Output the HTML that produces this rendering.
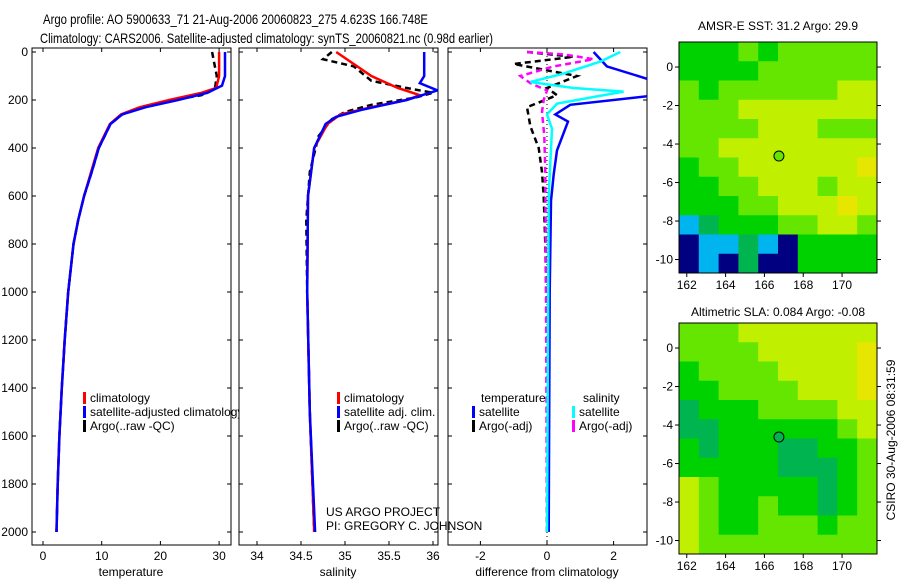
<!DOCTYPE html>
<html><head><meta charset="utf-8"><style>
body{margin:0;background:#fff}
svg{display:block;font-family:"Liberation Sans",sans-serif;font-size:12px}
</style></head><body>
<svg id="s" width="900" height="580" xmlns="http://www.w3.org/2000/svg">
<text x="43" y="24" font-size="14" textLength="385" lengthAdjust="spacingAndGlyphs">Argo profile: AO 5900633_71 21-Aug-2006 20060823_275 4.623S 166.748E</text>
<text x="40" y="43" font-size="14" textLength="453" lengthAdjust="spacingAndGlyphs">Climatology: CARS2006. Satellite-adjusted climatology: synTS_20060821.nc (0.98d earlier)</text>
<text x="778" y="30" text-anchor="middle">AMSR-E SST: 31.2 Argo: 29.9</text>
<text x="778" y="316" text-anchor="middle">Altimetric SLA: 0.084 Argo: -0.08</text>
<text transform="translate(895,440) rotate(-90)" text-anchor="middle">CSIRO 30-Aug-2006 08:31:59</text>
<defs><clipPath id="c1"><rect x="32" y="48" width="207" height="500"/></clipPath></defs>
</svg>
<script>
// ---- data ----
const depthTicks=[0,200,400,600,800,1000,1200,1400,1600,1800,2000];
const tempTicks=[0,10,20,30];
const salTicks=[34,34.5,35,35.5,36];
const diffTicks=[-2,0,2];
const argoTD=[0,50,100,150,180,200,230,260,300,400,500,600,700,800,1000,1200,1400,1600,1800,2000];
const argoT=[28.8,29.2,29.6,29.3,27,22,17,13.5,11.5,9.5,8.3,7.0,6.0,5.2,4.3,3.7,3.2,2.8,2.5,2.3];
const climTD=[0,100,150,170,200,230,260,300,400,500,600,700,800,1000,1200,1400,1600,1800,2000];
const climT=[30.0,30.0,29.5,27,21.5,16.5,13.3,11.4,9.4,8.2,7.0,6.0,5.2,4.3,3.7,3.2,2.8,2.5,2.3];
const satTD=[0,100,140,170,200,230,260,300,400,500,600,700,800,1000,1200,1400,1600,1800,2000];
const satT=[31.0,31.0,30.5,28,23,17.5,13.5,11.5,9.5,8.3,7.0,6.0,5.2,4.3,3.7,3.2,2.8,2.5,2.3];
const argoSD=[0,30,60,90,120,150,170,190,220,250,280,350,500,700,1000,1500,2000];
const argoS=[34.85,34.75,35.1,35.2,35.3,35.7,36.0,35.8,35.3,35.0,34.85,34.7,34.6,34.56,34.57,34.6,34.65];
const climSD=[0,100,150,180,200,230,260,300,400,600,1000,1500,2000];
const climS=[34.9,35.3,35.6,35.85,35.7,35.3,34.95,34.8,34.65,34.58,34.57,34.6,34.65];
const satSD=[0,100,130,160,200,240,270,300,400,600,1000,1500,2000];
const satS=[35.9,35.9,35.85,36.05,35.7,35.2,34.9,34.78,34.65,34.58,34.57,34.6,34.66];
const dTsD=[0,60,120,150,180,220,260,290,410,510,620,1000,2000];
const dTs=[1.4,1.8,3.2,3.5,3.3,0.7,0.25,0.63,0.3,0.2,0.12,0.08,0.05];
const dSsD=[0,40,90,125,150,165,185,215,260,320,600,2000];
const dSs=[2.2,1.6,0.5,-0.5,0.8,2.3,1.5,0.3,0.0,0.15,0.05,0.0];
const dSaD=[0,10,30,60,100,130,160,200,250,350,500,1000,2000];
const dSa=[-0.6,0.5,1.4,0.2,-0.8,-0.5,0.0,-0.1,-0.15,-0.08,-0.05,-0.03,0];
const dTaD=[0,20,50,100,150,180,230,310,400,500,600,800,1200,2000];
const dTa=[-0.6,0.8,-1.0,0.9,0,0.3,-0.6,-0.5,-0.25,-0.15,-0.1,-0.05,0,0];
const lonTicks=[162,164,166,168,170];
const sstLatTicks=[0,-2,-4,-6,-8,-10];
const slaLatTicks=[0,-2,-4,-6,-8,-10];
const sstGrid=["3334344444","3333444444","4344444455","4445555555","4444555444","4455555555","3445555556","3344555455","3334455565","1233344554","0112103333","0102003333"];
const slaGrid=["4445555555","4444555556","3444455556","3344445556","2333444455","2233333345","3233322334","3333322234","5433333234","5433433234","5433444344","5444444444"];
const palette=["#000080","#00b4f0","#00b450","#00d200","#64e600","#c0f000","#e6e600"];
// ---- helpers ----
const S=document.getElementById('s');const NS='http://www.w3.org/2000/svg';
function mk(t,a,p){const e=document.createElementNS(NS,t);for(const k in a)e.setAttribute(k,a[k]);(p||S).appendChild(e);return e;}
const yD=d=>52+d*0.24;
const xT=t=>43+t*5.87, xS=s=>257+(s-34)*88, xF=v=>547+v*33.3;
function panel(x0,name){const r=mk('rect',{x:x0,y:48,width:199,height:497,fill:'none',stroke:'#000'});
}
panel(32,'temperature-panel');panel(239,'salinity-panel');panel(448,'difference-panel');
depthTicks.forEach(d=>{const y=yD(d);
 const t=mk('text',{x:28,y:y+4,'text-anchor':'end'});t.textContent=d;
 
 [32,239,448].forEach(x=>{mk('line',{x1:x,x2:x+4,y1:y,y2:y,stroke:'#000'});mk('line',{x1:x+199,x2:x+195,y1:y,y2:y,stroke:'#000'});});});
function xticks(arr,f,lab,cx,name){arr.forEach(v=>{const x=f(v);mk('line',{x1:x,x2:x,y1:545,y2:541,stroke:'#000'});mk('line',{x1:x,x2:x,y1:48,y2:52,stroke:'#000'});
 const t=mk('text',{x:x,y:560,'text-anchor':'middle'});t.textContent=v;});
 const t=mk('text',{x:cx,y:576,'text-anchor':'middle'});t.textContent=lab;}
xticks(tempTicks,xT,'temperature',131,'temperature-axis-title');
xticks(salTicks,xS,'salinity',338,'salinity-axis-title');
xticks(diffTicks,xF,'difference from climatology',547,'difference-axis-title');
function line(D,V,f,col,dash,name){const pts=D.map((d,i)=>f(V[i]).toFixed(1)+','+yD(d).toFixed(1)).join(' ');
 const p=mk('polyline',{points:pts,fill:'none',stroke:col,'stroke-width':2.5,'stroke-dasharray':dash||'none','clip-path':'url(#cp'+Math.round(f(0))+')'});
 return p;}
const defs=S.querySelector('defs');
[[xT,32],[xS,239],[xF,448]].forEach(([f,x])=>{const c=mk('clipPath',{id:'cp'+Math.round(f(0))},defs);mk('rect',{x:x,y:48,width:199,height:497},c);});
line(argoTD,argoT,xT,'#000','6,4','temp-argo-line');line(climTD,climT,xT,'#f00','','temp-climatology-line');line(satTD,satT,xT,'#00f','','temp-satellite-line');
line(argoSD,argoS,xS,'#000','6,4','sal-argo-line');line(climSD,climS,xS,'#f00','','sal-climatology-line');line(satSD,satS,xS,'#00f','','sal-satellite-line');
mk('line',{x1:xF(0),x2:xF(0),y1:48,y2:545,stroke:'#000','stroke-dasharray':'1,3'});
line(dTaD,dTa,xF,'#000','6,4','diff-temp-argo-line');line(dSaD,dSa,xF,'#f0f','6,4','diff-sal-argo-line');
line(dTsD,dTs,xF,'#00f','','diff-temp-satellite-line');line(dSsD,dSs,xF,'#0ff','','diff-sal-satellite-line');
function leg(x,y,col,txt,clip){if(col)mk('rect',{x:x,y:y-10,width:3,height:12,fill:col});const t=mk('text',{x:x+7,y:y});t.textContent=txt;
 if(clip)t.setAttribute('clip-path','url(#c1)');}
leg(83,402,'#f00','climatology');leg(83,416,'#00f','satellite-adjusted climatology',1);leg(83,430,'#000','Argo(..raw -QC)');
leg(337,402,'#f00','climatology');leg(337,416,'#00f','satellite adj. clim.');leg(337,430,'#000','Argo(..raw -QC)');
leg(474,402,null,'temperature');leg(472,416,'#00f','satellite');leg(472,430,'#000','Argo(-adj)');
leg(576,402,null,'salinity');leg(572,416,'#0ff','satellite');leg(572,430,'#f0f','Argo(-adj)');
let t=mk('text',{x:326,y:516});t.textContent='US ARGO PROJECT';
t=mk('text',{x:326,y:530});t.textContent='PI: GREGORY C. JOHNSON';
// ---- maps ----
function map(y0,grid,lat0,latT,name,dotCol){const X0=679,W=198,H=231,lonL=161.6,lonR=171.8,latTop=1.3,latBot=-10.7;
 const xL=l=>X0+(l-lonL)/(lonR-lonL)*W, yL=a=>y0+(latTop-a)/(latTop-latBot)*H;
 const g=mk('g',{});
 const cw=W/10,ch=H/12;
 grid.forEach((row,r)=>row.split('').forEach((c,k)=>{const e=mk('rect',{x:X0+k*cw,y:y0+r*ch,width:cw+0.5,height:ch+0.5,fill:palette[+c]},g);
  }));
 mk('rect',{x:X0,y:y0,width:W,height:H,fill:'none',stroke:'#000'});
 lonTicks.forEach(l=>{const x=xL(l);mk('line',{x1:x,x2:x,y1:y0+H,y2:y0+H+4,stroke:'#000'});
  const t=mk('text',{x:x,y:y0+H+16,'text-anchor':'middle'});t.textContent=l;});
 latT.forEach(a=>{const y=yL(a);mk('line',{x1:X0-4,x2:X0,y1:y,y2:y,stroke:'#000'});mk('line',{x1:X0+W,x2:X0+W+4,y1:y,y2:y,stroke:'#000'});
  const t=mk('text',{x:X0-6,y:y+4,'text-anchor':'end'});t.textContent=a;});
 const c=mk('circle',{cx:xL(166.748),cy:yL(-4.623),r:5,fill:dotCol,stroke:'#000'});}
map(42,sstGrid,0,sstLatTicks,'sst-map','#64e600');
map(323,slaGrid,0,slaLatTicks,'sla-map','#00b450');
</script>
</body></html>
